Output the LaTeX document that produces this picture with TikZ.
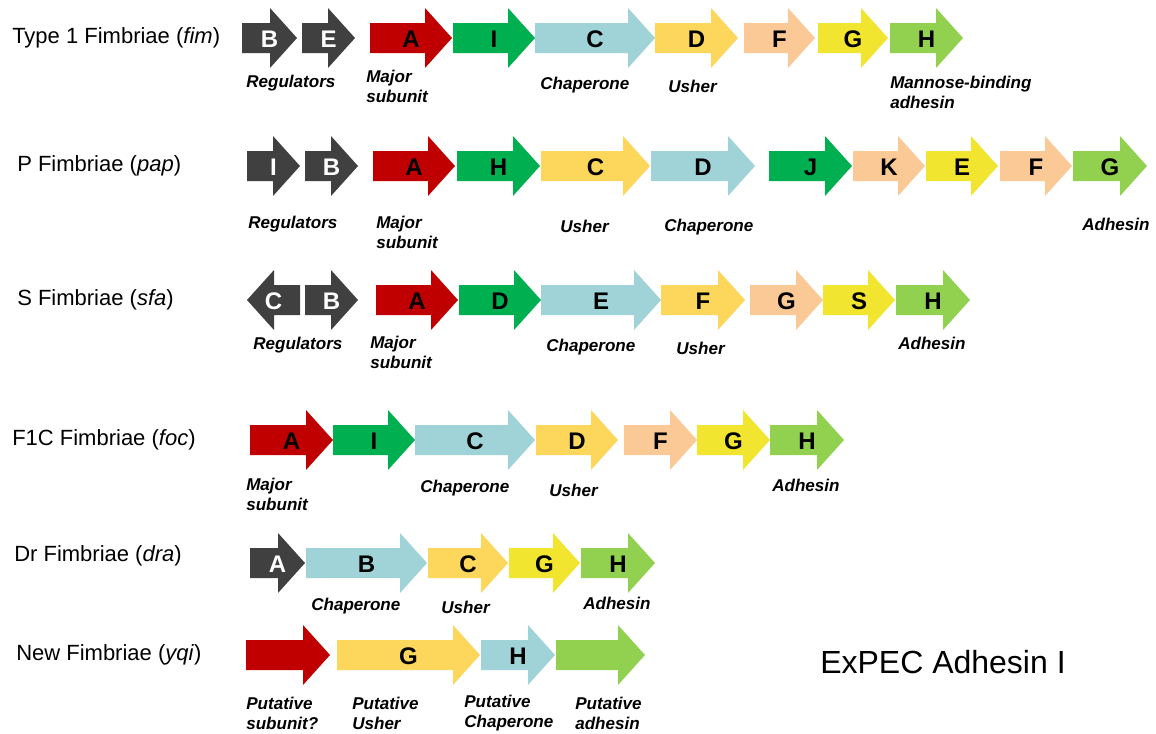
\documentclass[tikz,border=0pt]{standalone}
\usepackage{fontspec}
\setmainfont{Liberation Sans}
\definecolor{cdark}{HTML}{404040}
\definecolor{cred}{HTML}{C00000}
\definecolor{cgreen}{HTML}{00B050}
\definecolor{cblue}{HTML}{9FD3D8}
\definecolor{cusher}{HTML}{FDD65C}
\definecolor{cpeach}{HTML}{FAC996}
\definecolor{cyellow}{HTML}{F2E52F}
\definecolor{clgreen}{HTML}{92D050}
\tikzset{
  gletter/.style={font=\fontsize{18}{18}\selectfont\bfseries, inner sep=0pt},
  glabel/.style={font=\fontsize{12.8}{15}\selectfont\bfseries\itshape, inner sep=0pt, anchor=west, align=left},
  gtitle/.style={font=\fontsize{16.5}{18}\selectfont, inner sep=0pt, anchor=west},
}
% name, x1, x2, yc, fill, letter, lettercolor
\newcommand\genearr[7]{%
  \fill[#5] ({#2},{#4-15}) -- ({#3-27},{#4-15}) -- ({#3-27},{#4-30}) -- ({#3},{#4}) -- ({#3-27},{#4+30}) -- ({#3-27},{#4+15}) -- ({#2},{#4+15}) -- cycle;
  \node[gletter,text=#7] (#1) at ({(#2+#3)/2},{#4+1}) {#6};}
\newcommand\genelarr[7]{%
  \fill[#5] ({#3},{#4-15}) -- ({#2+27},{#4-15}) -- ({#2+27},{#4-30}) -- ({#2},{#4}) -- ({#2+27},{#4+30}) -- ({#2+27},{#4+15}) -- ({#3},{#4+15}) -- cycle;
  \node[gletter,text=#7] (#1) at ({(#2+#3)/2},{#4+1}) {#6};}
\begin{document}
\begin{tikzpicture}[x=0.75pt,y=-0.75pt]
\useasboundingbox[fill=white] (0,0) rectangle (1156,733);
% Row 1
\node[gtitle] (t1) at (12,38) {Type 1 Fimbriae (\textit{fim})};
\genearr{r1b}{242}{297}{38}{cdark}{B}{white}
\genearr{r1e}{302}{355}{38}{cdark}{E}{white}
\genearr{r1a}{370}{452}{38}{cred}{A}{black}
\genearr{r1i}{453}{535}{38}{cgreen}{I}{black}
\genearr{r1c}{535}{655}{38}{cblue}{C}{black}
\genearr{r1d}{655}{738}{38}{cusher}{D}{black}
\genearr{r1f}{744}{815}{38}{cpeach}{F}{black}
\genearr{r1g}{818}{888}{38}{cyellow}{G}{black}
\genearr{r1h}{890}{963}{38}{clgreen}{H}{black}
\node[glabel] (l1a) at (246,83) {Regulators};
\node[glabel] (l1b) at (366,86) {Major\\subunit};
\node[glabel] (l1c) at (540,85) {Chaperone};
\node[glabel] (l1d) at (668,86) {Usher};
\node[glabel] (l1e) at (890,92) {Mannose-binding\\adhesin};
% Row 2
\node[gtitle] (t2) at (17,166) {P Fimbriae (\textit{pap})};
\genearr{r2i}{247}{300}{166}{cdark}{I}{white}
\genearr{r2b}{305}{358}{166}{cdark}{B}{white}
\genearr{r2a}{373}{455}{166}{cred}{A}{black}
\genearr{r2h}{457}{540}{166}{cgreen}{H}{black}
\genearr{r2c}{541}{650}{166}{cusher}{C}{black}
\genearr{r2d}{651}{755}{166}{cblue}{D}{black}
\genearr{r2j}{769}{852}{166}{cgreen}{J}{black}
\genearr{r2k}{853}{925}{166}{cpeach}{K}{black}
\genearr{r2e}{926}{998}{166}{cyellow}{E}{black}
\genearr{r2f}{1000}{1072}{166}{cpeach}{F}{black}
\genearr{r2g}{1073}{1147}{166}{clgreen}{G}{black}
\node[glabel] (l2a) at (248,224) {Regulators};
\node[glabel] (l2b) at (376,232) {Major\\subunit};
\node[glabel] (l2c) at (560,226) {Usher};
\node[glabel] (l2d) at (664,227) {Chaperone};
\node[glabel] (l2e) at (1082,224) {Adhesin};
% Row 3
\node[gtitle] (t3) at (17,300) {S Fimbriae (\textit{sfa})};
\genelarr{r3c}{247}{300}{300}{cdark}{C}{white}
\genearr{r3b}{305}{358}{300}{cdark}{B}{white}
\genearr{r3a}{376}{458}{300}{cred}{A}{black}
\genearr{r3d}{459}{541}{300}{cgreen}{D}{black}
\genearr{r3e}{541}{661}{300}{cblue}{E}{black}
\genearr{r3f}{661}{745}{300}{cusher}{F}{black}
\genearr{r3g}{750}{823}{300}{cpeach}{G}{black}
\genearr{r3s}{823}{895}{300}{cyellow}{S}{black}
\genearr{r3h}{896}{970}{300}{clgreen}{H}{black}
\node[glabel] (l3a) at (253,345) {Regulators};
\node[glabel] (l3b) at (370,352) {Major\\subunit};
\node[glabel] (l3c) at (546,347) {Chaperone};
\node[glabel] (l3d) at (676,348) {Usher};
\node[glabel] (l3e) at (898,343) {Adhesin};
% Row 4
\node[gtitle] (t4) at (12,440) {F1C Fimbriae (\textit{foc})};
\genearr{r4a}{250}{333}{440}{cred}{A}{black}
\genearr{r4i}{333}{415}{440}{cgreen}{I}{black}
\genearr{r4c}{415}{535}{440}{cblue}{C}{black}
\genearr{r4d}{536}{618}{440}{cusher}{D}{black}
\genearr{r4f}{624}{697}{440}{cpeach}{F}{black}
\genearr{r4g}{697}{770}{440}{cyellow}{G}{black}
\genearr{r4h}{770}{844}{440}{clgreen}{H}{black}
\node[glabel] (l4a) at (246,494) {Major\\subunit};
\node[glabel] (l4b) at (420,488) {Chaperone};
\node[glabel] (l4c) at (549,490) {Usher};
\node[glabel] (l4d) at (772,485) {Adhesin};
% Row 5
\node[gtitle] (t5) at (14,556) {Dr Fimbriae (\textit{dra})};
\genearr{r5a}{250}{305}{563}{cdark}{A}{white}
\genearr{r5b}{306}{427}{563}{cblue}{B}{black}
\genearr{r5c}{428}{508}{563}{cusher}{C}{black}
\genearr{r5g}{509}{580}{563}{cyellow}{G}{black}
\genearr{r5h}{581}{655}{563}{clgreen}{H}{black}
\node[glabel] (l5a) at (311,606) {Chaperone};
\node[glabel] (l5b) at (441,607) {Usher};
\node[glabel] (l5c) at (583,603) {Adhesin};
% Row 6
\node[gtitle] (t6) at (16,655) {New Fimbriae (\textit{yqi})};
\genearr{r6a}{246}{330}{655}{cred}{}{black}
\genearr{r6g}{337}{480}{655}{cusher}{G}{black}
\genearr{r6h}{481}{555}{655}{cblue}{H}{black}
\genearr{r6x}{556}{645}{655}{clgreen}{}{black}
\node[glabel] (l6a) at (246,713) {Putative\\subunit?};
\node[glabel] (l6b) at (352,713) {Putative\\Usher};
\node[glabel] (l6c) at (464,713) {Putative\\Chaperone};
\node[glabel] (l6d) at (575,713) {Putative\\adhesin};
\node[font=\fontsize{24}{24}\selectfont, inner sep=0pt, anchor=west] (ttl) at (820,662) {ExPEC Adhesin I};
\end{tikzpicture}
\end{document}
